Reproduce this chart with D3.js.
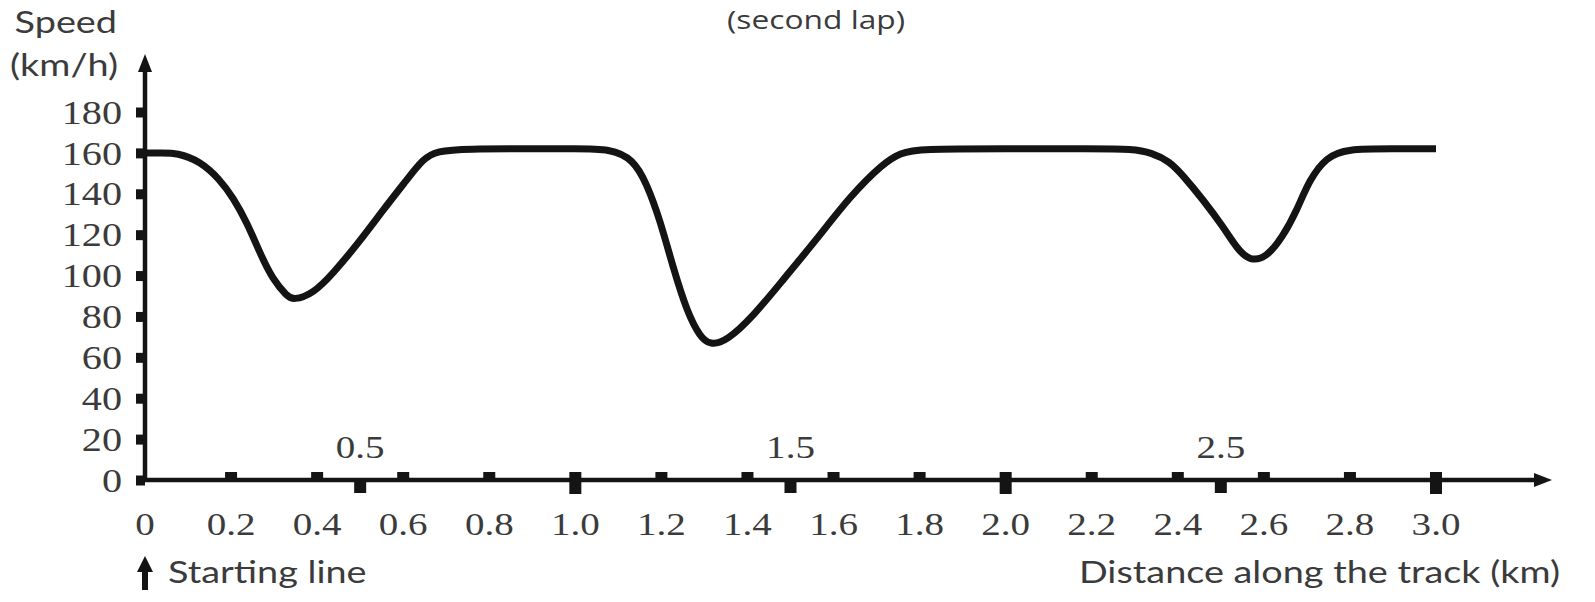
<!DOCTYPE html>
<html>
<head>
<meta charset="utf-8">
<script src="https://cdn.jsdelivr.net/npm/d3@7"></script>
<style>
  body { margin: 0; background: #fff; }
</style>
</head>
<body>
<svg id="chart" width="1595" height="602"></svg>
<script>
// speed along the track, second lap
var distance = [0, 0.04, 0.074, 0.128, 0.174, 0.205, 0.237, 0.267, 0.297, 0.33, 0.344, 0.39, 0.437, 0.5, 0.553, 0.609, 0.646, 0.678, 0.748, 0.9,
  1.0, 1.081, 1.134, 1.166, 1.197, 1.227, 1.26, 1.29, 1.313, 1.352, 1.413, 1.483, 1.562, 1.639, 1.716, 1.755, 1.8, 2.0,
  2.2, 2.296, 2.34, 2.38, 2.412, 2.459, 2.505, 2.538, 2.568, 2.607, 2.644, 2.677, 2.706, 2.746, 2.792, 2.9, 3.0];
var speed = [160, 160, 160, 156, 147, 138, 126, 111, 98, 90, 88, 91, 101, 117, 132, 147, 157, 161, 162, 162,
  162, 162, 157, 145, 127, 104, 82, 70, 66, 68, 80, 98, 118, 139, 155, 160, 162, 162,
  162, 162, 160, 156, 149, 137, 124, 113, 107, 109, 119, 132, 147, 158, 162, 162, 162];

var speedTicks = [0, 20, 40, 60, 80, 100, 120, 140, 160, 180];
var minorTicks = [0.2, 0.4, 0.6, 0.8, 1.2, 1.4, 1.6, 1.8, 2.2, 2.4, 2.6, 2.8];
var halfTicks = [0.5, 1.5, 2.5];
var wholeTicks = [1.0, 2.0, 3.0];
var distLabels = [0, 0.2, 0.4, 0.6, 0.8, 1.0, 1.2, 1.4, 1.6, 1.8, 2.0, 2.2, 2.4, 2.6, 2.8, 3.0];

var svg = d3.select("#chart");
var ink = "#141414";
var textInk = "#3b3b3b";
var sx = 1.22; // the scan is stretched sideways

var x = d3.scaleLinear().domain([0, 3]).range([145, 1436]);
var y = d3.scaleLinear().domain([0, 180]).range([480, 112]);

function label(txt, px, py, anchor, font, size) {
  svg.append("text")
    .attr("transform", "translate(" + px + "," + py + ") scale(" + sx + ",1)")
    .attr("text-anchor", anchor)
    .attr("font-family", font)
    .attr("font-size", size + "px")
    .attr("fill", textInk)
    .text(txt);
}

// y axis with arrow
svg.append("line")
  .attr("x1", x(0)).attr("x2", x(0))
  .attr("y1", y(0) + 2).attr("y2", 66)
  .attr("stroke", ink).attr("stroke-width", 4.5);
svg.append("path")
  .attr("d", "M" + x(0) + ",54 L" + (x(0) - 7) + ",72 L" + (x(0) + 7) + ",72 Z")
  .attr("fill", ink);

var yAxis = svg.append("g")
  .attr("transform", "translate(" + x(0) + ",0)")
  .call(d3.axisLeft(y).tickValues(speedTicks).tickSize(9).tickPadding(14));
yAxis.select(".domain").remove();
yAxis.selectAll(".tick line").attr("stroke", ink).attr("stroke-width", 10);
yAxis.selectAll(".tick text")
  .attr("font-family", "Liberation Serif")
  .attr("font-size", "33px")
  .attr("fill", textInk)
  .attr("dy", "0.34em")
  .attr("x", -23 / sx)
  .attr("transform", "scale(" + sx + ",1)");

// x axis with arrow
svg.append("line")
  .attr("x1", x(0) - 2).attr("x2", 1538)
  .attr("y1", y(0)).attr("y2", y(0))
  .attr("stroke", ink).attr("stroke-width", 4.5);
svg.append("path")
  .attr("d", "M1552," + y(0) + " L1534," + (y(0) - 7) + " L1534," + (y(0) + 7) + " Z")
  .attr("fill", ink);

svg.selectAll("rect.minor")
  .data(minorTicks)
  .enter()
  .append("rect")
  .attr("x", function (d) { return x(d) - 6; })
  .attr("y", y(0) - 8)
  .attr("width", 12)
  .attr("height", 8)
  .attr("fill", ink);

svg.selectAll("rect.half")
  .data(halfTicks)
  .enter()
  .append("rect")
  .attr("x", function (d) { return x(d) - 6; })
  .attr("y", y(0))
  .attr("width", 12)
  .attr("height", 13)
  .attr("fill", ink);

svg.selectAll("rect.whole")
  .data(wholeTicks)
  .enter()
  .append("rect")
  .attr("x", function (d) { return x(d) - 6; })
  .attr("y", y(0) - 8)
  .attr("width", 12)
  .attr("height", 22)
  .attr("fill", ink);

distLabels.forEach(function (d) {
  label(d === 0 ? "0" : d.toFixed(1), x(d), 535, "middle", "Liberation Serif", 32);
});
halfTicks.forEach(function (d) {
  label(d.toFixed(1), x(d), 458, "middle", "Liberation Serif", 32);
});

// the speed curve
var line = d3.line()
  .x(function (d, i) { return x(distance[i]); })
  .y(function (d) { return y(d); })
  .curve(d3.curveBasis);

svg.append("path")
  .attr("d", line(speed))
  .attr("fill", "none")
  .attr("stroke", ink)
  .attr("stroke-width", 7)
  .attr("stroke-linejoin", "round");

// titles
label("Speed", 117, 33, "end", "Lato", 31);
label("(km/h)", 118, 76, "end", "Lato", 31);
label("(second lap)", 816, 29, "middle", "Open Sans", 26);
label("Starting line", 168, 583, "start", "Lato", 31);
label("Distance along the track (km)", 1560, 583, "end", "Lato", 31);

// starting line arrow
svg.append("path")
  .attr("d", "M" + x(0) + ",556 L" + (x(0) - 8) + ",572 L" + (x(0) - 3) + ",572 L" + (x(0) - 3) + ",590 L" +
    (x(0) + 3) + ",590 L" + (x(0) + 3) + ",572 L" + (x(0) + 8) + ",572 Z")
  .attr("fill", ink);
</script>
</body>
</html>
